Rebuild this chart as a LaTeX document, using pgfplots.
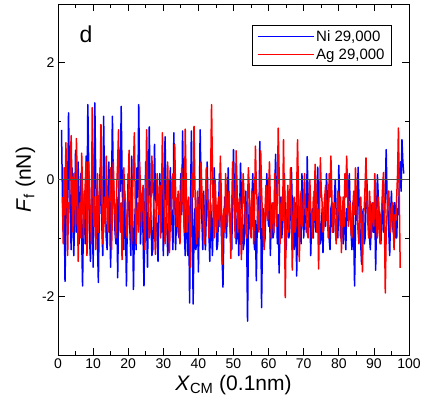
\documentclass[border=0pt]{standalone}
\usepackage{fontspec}
\setmainfont{Liberation Sans}
\usepackage{pgfplots}
\pgfplotsset{compat=1.18}

\begin{document}
\begin{tikzpicture}
  \path (-58pt,-52pt) rectangle (366pt,355pt);
  \begin{axis}[
      scale only axis,
      width=351pt, height=351pt,
      xmin=0, xmax=100, ymin=-3, ymax=3,
      xtick={0,10,...,100},
      xticklabels={0,10,20,30,40,50,60,70,80,90,100},
      minor xtick={5,15,...,95},
      ytick={-2,0,2},
      yticklabels={-2,0,2},
      minor ytick={-3,-1,1,3},
      tick align=inside,
      major tick length=7pt,
      minor tick length=3.5pt,
      tick style={black, line width=0.7pt},
      axis line style={line width=0.9pt},
      ticklabel style={font=\fontsize{14}{16}\selectfont},
      xlabel={\textit{X}\textsubscript{CM} (0.1nm)},
      ylabel={\textit{F}\textsubscript{f} (nN)},
      label style={font=\fontsize{21}{24}\selectfont},
      legend cell align=left,
      legend image code/.code={\draw[#1, line width=1.1pt] (0pt,0pt) -- (56pt,0pt);},
      legend style={at={(rel axis cs:0.9516,0.940)}, anchor=north east,
        draw=black, line width=0.8pt, fill=white,
        font=\fontsize{15}{17}\selectfont, row sep=2pt,
        inner xsep=5pt, inner ysep=3pt},
    ]
    % Ni
    \addplot[blue, line width=1.5pt, line join=round] coordinates {
      (1.0,0.85)(1.25,-0.2)(1.5,-0.9)(1.75,-0.3)(2.0,-1.74)(2.25,-0.8)(2.5,0.3)(2.75,-0.5)(3.0,1.14)(3.25,0.1)
      (3.5,-0.6)(3.75,-1.2)(4.0,0.2)(4.25,-0.4)(4.5,-1.3)(4.75,-0.6)(5.0,0.5)(5.25,-0.9)(5.5,-0.4)(5.75,0.3)
      (6.0,-1.1)(6.25,-0.5)(6.5,0.1)(6.75,-1.0)(7.0,-1.82)(7.25,-0.7)(7.5,-0.2)(7.75,-1.1)(8.0,0.4)(8.25,-0.6)
      (8.5,1.28)(8.75,0.2)(9.0,-1.0)(9.25,-1.4)(9.5,-0.3)(9.75,0.5)(10.0,-1.5)(10.25,-0.4)(10.5,1.31)(10.75,0.0)
      (11.0,-0.5)(11.25,-1.1)(11.5,-1.76)(11.75,-0.6)(12.0,0.2)(12.25,-0.3)(12.5,-0.8)(12.75,-1.3)(13.0,1.08)(13.25,-0.1)
      (13.5,-0.6)(13.75,-1.0)(14.0,-1.2)(14.25,-0.5)(14.5,0.3)(14.75,-0.7)(15.0,-1.5)(15.25,-0.2)(15.5,1.08)(15.75,0.0)
      (16.0,-0.4)(16.25,-0.9)(16.5,-1.1)(16.75,-0.3)(17.0,-1.68)(17.25,-0.6)(17.5,0.5)(17.75,-0.2)(18.0,1.25)(18.25,0.1)
      (18.5,-0.7)(18.75,-1.2)(19.0,-0.2)(19.25,-0.8)(19.5,-1.82)(19.75,-0.7)(20.0,0.1)(20.25,-0.4)(20.5,-0.9)(20.75,-1.3)
      (21.0,0.4)(21.25,-0.6)(21.5,-1.88)(21.75,-0.9)(22.0,-0.5)(22.25,-1.2)(22.5,0.2)(22.75,-0.3)(23.0,1.28)(23.25,0.0)
      (23.5,-1.1)(23.75,-0.6)(24.0,-0.3)(24.25,-1.0)(24.5,-1.82)(24.75,-0.5)(25.0,0.3)(25.25,-0.7)(25.5,-1.5)(25.75,-0.4)
      (26.0,0.9)(26.25,-0.2)(26.5,-0.7)(26.75,-1.3)(27.0,-1.2)(27.25,-0.5)(27.5,0.6)(27.75,-0.3)(28.0,-0.4)(28.25,-1.0)
      (28.5,-1.4)(28.75,-0.6)(29.0,0.1)(29.25,-0.5)(29.5,-0.9)(29.75,0.2)(30.0,-1.3)(30.25,-0.6)(30.5,0.73)(30.75,-0.2)
      (31.0,-0.6)(31.25,-1.3)(31.5,-1.1)(31.75,-0.4)(32.0,0.2)(32.25,-0.5)(32.5,-0.8)(32.75,-1.2)(33.0,0.8)(33.25,-0.1)
      (33.5,-1.2)(33.75,-0.7)(34.0,-0.3)(34.25,-0.9)(34.5,-1.0)(34.75,-0.4)(35.0,0.1)(35.25,-0.6)(35.5,0.83)(35.75,-0.2)
      (36.0,-0.9)(36.25,-1.3)(36.5,-0.4)(36.75,-0.8)(37.0,-1.3)(37.25,-0.6)(37.5,-2.11)(37.75,-0.5)(38.0,0.83)(38.25,-0.4)
      (38.5,-2.13)(38.75,-0.9)(39.0,-0.5)(39.25,-1.2)(39.5,-1.1)(39.75,-0.3)(40.0,-1.58)(40.25,-0.5)(40.5,0.85)(40.75,-0.1)
      (41.0,-0.7)(41.25,-1.2)(41.5,-0.2)(41.75,-0.8)(42.0,-1.2)(42.25,-0.6)(42.5,0.3)(42.75,-0.4)(43.0,-0.9)(43.25,-1.4)
      (43.5,-0.4)(43.75,-0.8)(44.0,-1.3)(44.25,-0.6)(44.5,0.2)(44.75,-0.3)(45.0,-0.6)(45.25,-1.2)(45.5,-1.1)(45.75,-0.5)
      (46.0,0.1)(46.25,-0.4)(46.5,-0.8)(46.75,-1.3)(47.0,-1.84)(47.25,-0.9)(47.5,-0.3)(47.75,-0.7)(48.0,-1.0)(48.25,-0.4)
      (48.5,0.2)(48.75,-0.5)(49.0,-0.7)(49.25,-1.1)(49.5,-1.2)(49.75,-0.3)(50.0,0.51)(50.25,-0.2)(50.5,-0.5)(50.75,-1.1)
      (51.0,-0.9)(51.25,-0.4)(51.5,-1.3)(51.75,-0.6)(52.0,0.28)(52.25,-0.3)(52.5,-0.6)(52.75,-1.2)(53.0,-1.1)(53.25,-0.5)
      (53.5,-0.2)(53.75,-0.9)(54.0,-2.42)(54.25,-1.0)(54.5,-0.4)(54.75,-0.8)(55.0,-0.9)(55.25,-0.3)(55.5,0.1)(55.75,-0.6)
      (56.0,-1.2)(56.25,-0.7)(56.5,-1.73)(56.75,-0.8)(57.0,-0.3)(57.25,-0.7)(57.5,0.65)(57.75,-0.4)(58.0,-2.19)(58.25,-1.0)
      (58.5,-0.5)(58.75,-1.1)(59.0,-1.0)(59.25,-0.4)(59.5,0.1)(59.75,-0.5)(60.0,-0.8)(60.25,-0.3)(60.5,-1.3)(60.75,-0.7)
      (61.0,-0.4)(61.25,-1.0)(61.5,-0.9)(61.75,-0.2)(62.0,0.43)(62.25,-0.4)(62.5,-1.1)(62.75,-0.6)(63.0,-1.6)(63.25,-0.8)
      (63.5,-0.3)(63.75,-1.0)(64.0,-0.8)(64.25,-0.4)(64.5,0.1)(64.75,-0.6)(65.0,-1.2)(65.25,-0.7)(65.5,-0.5)(65.75,-1.0)
      (66.0,-0.9)(66.25,-0.4)(66.5,0.2)(66.75,-0.5)(67.0,-0.7)(67.25,-1.2)(67.5,-1.1)(67.75,-0.4)(68.0,-1.65)(68.25,-0.7)
      (68.5,-0.2)(68.75,-0.9)(69.0,-0.6)(69.25,-1.1)(69.5,0.1)(69.75,-0.4)(70.0,-1.0)(70.25,-0.6)(70.5,-0.4)(70.75,-0.9)
      (71.0,0.39)(71.25,-0.3)(71.5,-0.8)(71.75,-0.4)(72.0,-1.3)(72.25,-0.7)(72.5,-0.5)(72.75,-1.0)(73.0,-0.2)(73.25,-0.6)
      (73.5,-0.9)(73.75,-0.3)(74.0,0.21)(74.25,-0.5)(74.5,-0.6)(74.75,-1.1)(75.0,-1.0)(75.25,-0.5)(75.5,-1.25)(75.75,-0.6)
      (76.0,-0.3)(76.25,-0.8)(76.5,0.1)(76.75,-0.4)(77.0,-0.7)(77.25,-1.0)(77.5,-1.2)(77.75,-0.5)(78.0,-0.4)(78.25,-0.9)
      (78.5,-0.9)(78.75,-0.3)(79.0,0.0)(79.25,-0.6)(79.5,-0.5)(79.75,-1.0)(80.0,0.24)(80.25,-0.4)(80.5,-1.0)(80.75,-0.7)
      (81.0,-0.6)(81.25,-1.1)(81.5,-0.3)(81.75,-0.8)(82.0,-1.2)(82.25,-0.5)(82.5,-0.7)(82.75,-0.2)(83.0,0.1)(83.25,-0.5)
      (83.5,-0.9)(83.75,-1.2)(84.0,-0.4)(84.25,-0.9)(84.5,-1.82)(84.75,-0.8)(85.0,-0.2)(85.25,-0.7)(85.5,0.21)(85.75,-0.3)
      (86.0,-0.8)(86.25,-1.1)(86.5,-1.45)(86.75,-0.6)(87.0,-0.5)(87.25,-1.1)(87.5,-1.0)(87.75,-0.4)(88.0,0.0)(88.25,-0.5)
      (88.5,-0.7)(88.75,-1.0)(89.0,-1.2)(89.25,-0.6)(89.5,-0.4)(89.75,-0.9)(90.0,-0.9)(90.25,-0.4)(90.5,-1.55)(90.75,-0.7)
      (91.0,0.08)(91.25,-0.3)(91.5,-0.6)(91.75,-1.0)(92.0,-1.1)(92.25,-0.6)(92.5,-0.3)(92.75,-0.9)(93.0,-0.8)(93.25,-0.2)
      (93.5,0.51)(93.75,-0.3)(94.0,-0.5)(94.25,-0.9)(94.5,-1.3)(94.75,-0.6)(95.0,-0.2)(95.25,-0.7)(95.5,-0.9)(95.75,-0.4)
      (96.0,-0.4)(96.25,-1.0)(96.5,-1.0)(96.75,-0.5)(97.0,-0.6)(97.25,-0.1)(97.5,0.3)(97.75,-0.2)(98.0,0.68)(98.25,0.3)
      (98.5,0.1)
    };
    \addlegendentry{Ni 29,000}
    % Ag
    \addplot[red, line width=1.5pt, line join=round] coordinates {
      (1.25,-0.3)(1.5,-1.1)(1.75,0.2)(2.0,-0.6)(2.25,0.63)(2.5,-0.2)(2.75,-1.3)(3.0,-0.4)(3.25,-0.5)(3.5,0.2)
      (3.75,0.75)(4.0,-0.3)(4.25,-0.9)(4.5,0.1)(4.75,-0.2)(5.0,-0.8)(5.25,0.7)(5.5,-0.1)(5.75,-1.4)(6.0,-0.6)
      (6.25,-0.4)(6.5,-1.0)(6.75,0.45)(7.0,-0.2)(7.25,-1.0)(7.5,-0.5)(7.75,-0.1)(8.0,0.3)(8.25,-1.3)(8.5,-0.7)
      (8.75,0.3)(9.0,-0.4)(9.25,-0.6)(9.5,-1.1)(9.75,1.23)(10.0,0.1)(10.25,-0.8)(10.5,-0.3)(10.75,-1.2)(11.0,-0.6)
      (11.25,0.1)(11.5,-0.9)(11.75,-0.5)(12.0,-0.1)(12.25,0.94)(12.5,-0.3)(12.75,-1.1)(13.0,-0.5)(13.25,-0.3)(13.5,-0.9)
      (13.75,0.4)(14.0,-0.2)(14.25,-0.9)(14.5,-0.4)(14.75,-0.2)(15.0,0.2)(15.25,-1.2)(15.5,-0.6)(15.75,0.3)(16.0,-0.3)
      (16.25,-0.6)(16.5,-1.0)(16.75,-0.1)(17.0,0.3)(17.25,0.85)(17.5,-0.4)(17.75,-0.9)(18.0,-0.4)(18.25,-1.37)(18.5,-0.6)
      (18.75,0.2)(19.0,-0.3)(19.25,-0.4)(19.5,-0.9)(19.75,-1.0)(20.0,-0.2)(20.25,0.5)(20.5,-0.1)(20.75,-0.7)(21.0,-1.1)
      (21.25,-0.2)(21.5,0.2)(21.75,0.8)(22.0,-0.3)(22.25,-1.1)(22.5,-0.6)(22.75,-0.4)(23.0,-0.9)(23.25,0.3)(23.5,-0.2)
      (23.75,-0.8)(24.0,-0.3)(24.25,-0.1)(24.5,-0.7)(24.75,-1.2)(25.0,-0.4)(25.25,0.85)(25.5,0.0)(25.75,-0.5)(26.0,-1.0)
      (26.25,-0.9)(26.5,-0.3)(26.75,0.4)(27.0,-0.2)(27.25,-0.3)(27.5,-0.8)(27.75,-1.28)(28.0,-0.5)(28.25,0.1)(28.5,-0.4)
      (28.75,-0.6)(29.0,-0.1)(29.25,-1.0)(29.5,-0.3)(29.75,0.8)(30.0,-0.1)(30.25,-0.4)(30.5,-1.1)(30.75,-0.9)(31.0,-0.2)
      (31.25,0.3)(31.5,-0.5)(31.75,-1.25)(32.0,-0.7)(32.25,-0.5)(32.5,0.0)(32.75,0.1)(33.0,-0.6)(33.25,0.6)(33.5,-0.2)
      (33.75,-0.8)(34.0,-0.4)(34.25,-0.2)(34.5,-0.9)(34.75,-1.1)(35.0,-0.5)(35.25,0.2)(35.5,-0.3)(35.75,-0.5)(36.0,-0.9)
      (36.25,0.86)(36.5,0.0)(36.75,-0.9)(37.0,-0.4)(37.25,-0.3)(37.5,-0.8)(37.75,-1.5)(38.0,-0.6)(38.25,0.1)(38.5,-0.3)
      (38.75,0.91)(39.0,-0.1)(39.25,-0.7)(39.5,-1.1)(39.75,-0.2)(40.0,-0.6)(40.25,-1.0)(40.5,-0.4)(40.75,0.3)(41.0,-0.2)
      (41.25,-0.5)(41.5,-0.9)(41.75,-1.1)(42.0,-0.4)(42.25,0.2)(42.5,-0.3)(42.75,-0.4)(43.0,-1.0)(43.25,-0.8)(43.5,0.1)
      (43.75,1.28)(44.0,0.2)(44.25,-0.6)(44.5,-1.0)(44.75,0.0)(45.0,-0.4)(45.25,-0.9)(45.5,-0.5)(45.75,-0.3)(46.0,-0.8)
      (46.25,0.4)(46.5,-0.2)(46.75,-1.45)(47.0,-0.7)(47.25,-0.5)(47.5,-0.9)(47.75,0.1)(48.0,-0.3)(48.25,-0.8)(48.5,-0.4)
      (48.75,-0.2)(49.0,-0.7)(49.25,-1.35)(49.5,-0.5)(49.75,0.3)(50.0,-0.2)(50.25,-0.6)(50.5,-1.0)(50.75,0.49)(51.0,-0.1)
      (51.25,-0.9)(51.5,-0.5)(51.75,-0.3)(52.0,-0.8)(52.25,-1.37)(52.5,-0.6)(52.75,0.1)(53.0,-0.3)(53.25,-0.5)(53.5,-0.9)
      (53.75,-1.0)(54.0,-0.4)(54.25,0.2)(54.5,-0.2)(54.75,-0.7)(55.0,-1.0)(55.25,-0.2)(55.5,-0.6)(55.75,-1.1)(56.0,-0.5)
      (56.25,0.57)(56.5,-0.1)(56.75,-0.4)(57.0,-0.8)(57.25,-0.9)(57.5,-0.3)(57.75,0.49)(58.0,-0.2)(58.25,-0.6)(58.5,-1.0)
      (58.75,-1.2)(59.0,-0.5)(59.25,-0.1)(59.5,-0.6)(59.75,-0.7)(60.0,-0.2)(60.25,0.3)(60.5,-0.4)(60.75,-1.0)(61.0,-0.6)
      (61.25,-0.4)(61.5,-0.9)(61.75,0.1)(62.0,-0.3)(62.25,-0.8)(62.5,-0.2)(62.75,0.88)(63.0,0.1)(63.25,-1.1)(63.5,-0.6)
      (63.75,-0.3)(64.0,-0.7)(64.25,0.68)(64.5,-0.4)(64.75,-2.02)(65.0,-0.8)(65.25,-0.5)(65.5,-0.1)(65.75,-0.9)(66.0,-0.4)
      (66.25,0.2)(66.5,-0.5)(66.75,-1.55)(67.0,-0.7)(67.25,-0.3)(67.5,-0.9)(67.75,-0.8)(68.0,-0.2)(68.25,0.68)(68.5,-0.2)
      (68.75,-1.4)(69.0,-0.6)(69.25,-0.2)(69.5,-0.8)(69.75,-0.7)(70.0,-0.3)(70.25,0.1)(70.5,-0.6)(70.75,-0.5)(71.0,-0.9)
      (71.25,-1.0)(71.5,-0.4)(71.75,0.0)(72.0,-0.5)(72.25,-0.6)(72.5,-1.0)(72.75,-0.3)(73.0,-0.7)(73.25,0.26)(73.5,-0.2)
      (73.75,-0.9)(74.0,-0.5)(74.25,-1.53)(74.5,-0.6)(74.75,0.37)(75.0,-0.2)(75.25,-0.4)(75.5,-0.9)(75.75,-0.8)(76.0,-0.3)
      (76.25,-0.1)(76.5,-0.7)(76.75,-0.6)(77.0,-1.0)(77.25,0.1)(77.5,-0.3)(77.75,0.4)(78.0,-0.2)(78.25,-0.9)(78.5,-0.5)
      (78.75,-0.4)(79.0,-0.8)(79.25,-1.1)(79.5,-0.6)(79.75,-0.2)(80.0,-0.5)(80.25,-0.7)(80.5,-0.3)(80.75,-1.25)(81.0,-0.6)
      (81.25,-0.3)(81.5,-0.8)(81.75,0.1)(82.0,-0.3)(82.25,0.4)(82.5,-0.2)(82.75,-0.8)(83.0,-0.5)(83.25,-0.4)(83.5,-0.9)
      (83.75,-1.0)(84.0,-0.5)(84.25,-0.2)(84.5,-0.6)(84.75,0.2)(85.0,-0.3)(85.25,-0.6)(85.5,-0.9)(85.75,-1.1)(86.0,-0.5)
      (86.25,-0.3)(86.5,-0.8)(86.75,-1.58)(87.0,-0.6)(87.25,-0.5)(87.5,-0.1)(87.75,0.37)(88.0,-0.3)(88.25,-0.7)(88.5,-1.0)
      (88.75,-0.2)(89.0,-0.5)(89.25,-1.0)(89.5,-0.6)(89.75,-0.4)(90.0,-0.8)(90.25,0.1)(90.5,-0.3)(90.75,-0.8)(91.0,-1.0)
      (91.25,-0.3)(91.5,-0.7)(91.75,-1.1)(92.0,-0.6)(92.25,-0.5)(92.5,-0.1)(92.75,0.12)(93.0,-0.7)(93.25,-1.94)(93.5,-0.9)
      (93.75,-0.6)(94.0,-0.2)(94.25,-0.2)(94.5,-0.7)(94.75,-0.9)(95.0,-0.5)(95.25,-0.4)(95.5,-0.8)(95.75,-1.2)(96.0,-0.6)
      (96.25,-0.7)(96.5,-0.3)(96.75,0.1)(97.0,0.88)(97.25,-0.4)(97.5,-1.51)
    };
    \addlegendentry{Ag 29,000}
    \draw[black!70, line width=0.7pt] (rel axis cs:0,0.5) -- (rel axis cs:1,0.5);
    \node[font=\fontsize{23}{26}\selectfont] at (axis cs:8,2.48) {d};
  \end{axis}
\end{tikzpicture}
\end{document}
